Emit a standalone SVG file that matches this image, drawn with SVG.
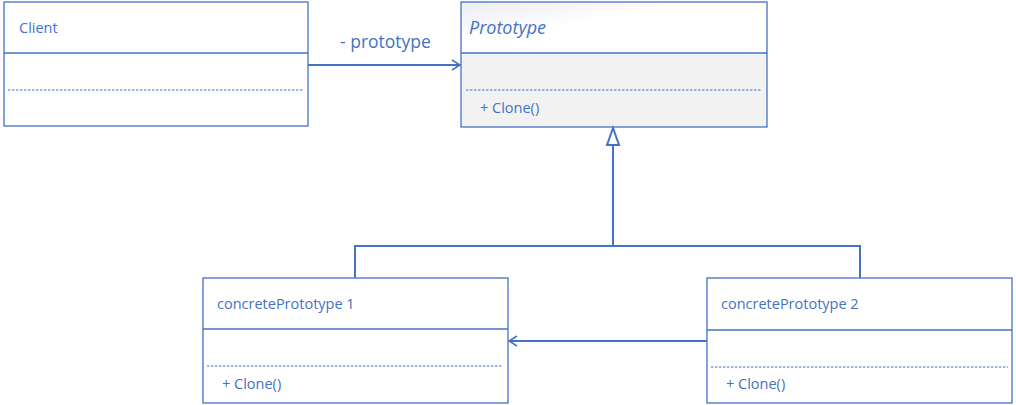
<svg xmlns="http://www.w3.org/2000/svg" width="1016" height="405" viewBox="0 0 1016 405">
<style>
.box{fill:#fff;stroke:#4472c4;stroke-width:1.3}
.div{stroke:#4472c4;stroke-width:1.3}
.dash{stroke:#4472c4;stroke-width:1.2;stroke-dasharray:2.5 1.5}
.t{font-family:"Open Sans","Noto Sans",sans-serif;font-size:14.5px;fill:#4472c4}
.big{font-size:17.5px}
.it{font-size:18px;font-style:italic}
.c{stroke:#4472c4;stroke-width:2;fill:none}
</style>
<defs>
<linearGradient id="g" x1="0" y1="0" x2="1" y2="1">
<stop offset="0" stop-color="#ececf4"/><stop offset="0.4" stop-color="#ffffff"/>
</linearGradient>
<marker id="open" markerWidth="12" markerHeight="12" refX="10" refY="6" orient="auto" markerUnits="userSpaceOnUse">
<path d="M2,1 L10,6 L2,11" fill="none" stroke="#4472c4" stroke-width="1.5"/>
</marker>
</defs>
<g id="client">
<rect class="box" x="4" y="2" width="304" height="124"/>
<line class="div" x1="4" y1="53" x2="308" y2="53"/>
<line class="dash" x1="8" y1="90" x2="304" y2="90"/>
<text class="t" x="19" y="33">Client</text>
</g>
<g id="prototype">
<rect x="461" y="2" width="306" height="51" fill="url(#g)"/>
<rect x="461" y="53" width="306" height="74" fill="#f2f2f2"/>
<rect x="461" y="2" width="306" height="125" fill="none" stroke="#4472c4" stroke-width="1.3"/>
<line class="div" x1="461" y1="53" x2="767" y2="53"/>
<line class="dash" x1="466" y1="90" x2="762" y2="90"/>
<text class="t it" x="469" y="34">Prototype</text>
<text class="t" x="480" y="113">+ Clone()</text>
</g>
<g id="cp1">
<rect class="box" x="203" y="278" width="305" height="125"/>
<line class="div" x1="203" y1="329" x2="508" y2="329"/>
<line class="dash" x1="207" y1="366" x2="503" y2="366"/>
<text class="t" x="217" y="309">concretePrototype 1</text>
<text class="t" x="222" y="389">+ Clone()</text>
</g>
<g id="cp2">
<rect class="box" x="707" y="278" width="305" height="125"/>
<line class="div" x1="707" y1="330" x2="1012" y2="330"/>
<line class="dash" x1="711" y1="367" x2="1008" y2="367"/>
<text class="t" x="721" y="309">concretePrototype 2</text>
<text class="t" x="726" y="389">+ Clone()</text>
</g>
<g id="connectors">
<line class="c" x1="308" y1="65" x2="460" y2="65" marker-end="url(#open)"/>
<text class="t big" x="340" y="48">- prototype</text>
<line class="c" x1="707" y1="341" x2="509" y2="341" marker-end="url(#open)"/>
<polyline class="c" points="355,278 355,246 860,246 860,278"/>
<line class="c" x1="613" y1="246" x2="613" y2="145"/>
<polygon points="613,128 607,145 619,145" fill="#fff" stroke="#4472c4" stroke-width="2"/>
</g>
</svg>
